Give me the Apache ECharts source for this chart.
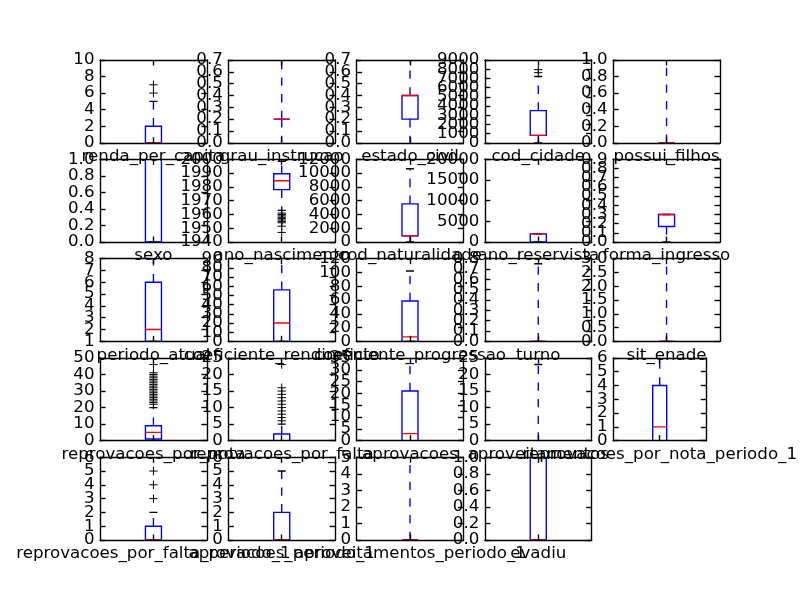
<!DOCTYPE html>
<html><head><meta charset="utf-8">
<script src="https://cdn.jsdelivr.net/npm/echarts@6/dist/echarts.min.js"></script>
<style>html,body{margin:0;padding:0;background:#fff}#c{width:800px;height:600px}</style>
</head><body><div id="c"></div>
<script>
const columns = ['renda_per_capita','grau_instrucao','estado_civil','cod_cidade','possui_filhos',
  'sexo','ano_nascimento','cod_naturalidade','ano_reservista','forma_ingresso',
  'periodo_atual','coeficiente_rendimento','coeficiente_progressao','turno','sit_enade',
  'reprovacoes_por_nota','reprovacoes_por_falta','aprovacoes','aproveitamentos','reprovacoes_por_nota_periodo_1',
  'reprovacoes_por_falta_periodo_1','aprovacoes_periodo_1','aproveitamentos_periodo_1','evadiu'];
const yMin = [0,0,0,0,0, 0,1940,0,0,0, 1,0,0,0,0, 0,0,0,0,0, 0,0,0,0];
const yMax = [10,0.7,0.7,9000,1, 1,2000,12000,20000,0.9, 8,90,120,0.8,3, 50,25,35,25,6, 6,6,5,1];
const yStep = [2,0.1,0.1,1000,0.2, 0.2,10,2000,5000,0.1, 1,10,20,0.1,0.5, 10,5,5,5,1, 1,1,1,0.2];
const yDecimals = [0,1,1,0,1, 1,0,0,0,1, 0,0,0,1,1, 0,0,0,0,0, 0,0,0,1];
const whiskerLow = [0,-0.5,-0.3,0,0, 0,1963,0,0,0, 1,0,0,0,0, 0,0,0,0,0, 0,0,0,0];
const q1 = [0,0.2,0.2,800,0, 0,1978,900,0,0.17, 1,0,0,0,0, 1,0,0,0,0, 0,0,0,0];
const median = [0,0.2,0.4,800,0, 1,1984.5,900,1990,0.3, 2,20,6.5,0,0, 5,0,3,0,1, 0,0,0,0];
const q3 = [2,0.2,0.4,3500,0, 1,1989.5,5540,1990,0.3, 6,56,58.5,0,0, 9,2,21,0,4, 1,2,0,1];
const whiskerHigh = [5,1.0,1.0,7200,1.5, 1,1998.5,10640,2010,0.3, 8,95,102,0.75,3.5, 20,5,36,23,6, 2,5,6,1];
const fliers = {
  0: [6,7],
  3: [7620,7950],
  6: [1961,1960,1959,1958,1957,1956,1955,1954,1951.5,1947],
  15: [22,23,24,25,26,27,28,29,30,31,32,33,34,35,36,37,38,39,40,41,46],
  16: [6,7,8,9,10,11,12,13,14,15,16,23],
  20: [3,4,5]
};
// tick label texts for each y axis, built from the tick ranges above
const yTickLabels = columns.map((_, i) => {
  const n = Math.round((yMax[i] - yMin[i]) / yStep[i]);
  const out = [];
  for (let k = 0; k <= n; k++) out.push((yMin[i] + k * yStep[i]).toFixed(yDecimals[i]));
  return out;
});

const FONT = 'DejaVu Sans', FS = 16.67, LW = 1.39, TL = 5.56;
const L = 100, T = 60, W = 620, H = 480, NC = 5, NR = 5;
const cw = W / (NC + (NC - 1) * 0.2), chh = H / (NR + (NR - 1) * 0.2);

const grids = [], xAxes = [], yAxes = [], series = [];
const axisLineStyle = {color:'#000', width:LW};
columns.forEach((name, i) => {
  const r = Math.floor(i / NC), c = i % NC;
  grids.push({left: L + c * cw * 1.2, top: T + r * chh * 1.2, width: cw, height: chh, show:false});
  const xBase = {gridIndex:i, type:'value', min:0.5, max:1.5, interval:0.5, z:5,
    splitLine:{show:false}, axisLine:{show:true, onZero:false, lineStyle:axisLineStyle},
    axisTick:{show:true, inside:true, length:TL, customValues:[1], lineStyle:axisLineStyle}};
  xAxes.push(Object.assign({}, xBase, {position:'bottom',
    axisLabel:{show:true, customValues:[1], margin:5.5, color:'#000', fontFamily:FONT, fontSize:FS,
      formatter: v => (Math.abs(v - 1) < 1e-9 ? name : '')}}));
  xAxes.push(Object.assign({}, xBase, {position:'top', axisLabel:{show:false}}));
  const yBase = {gridIndex:i, type:'value', min:yMin[i], max:yMax[i], interval:yStep[i], z:5,
    splitLine:{show:false}, axisLine:{show:true, onZero:false, lineStyle:axisLineStyle},
    axisTick:{show:true, inside:true, length:TL, lineStyle:axisLineStyle}, axisLabel:{show:false}};
  yAxes.push(Object.assign({}, yBase, {position:'left'}));
  yAxes.push(Object.assign({}, yBase, {position:'right'}));
  yAxes.push({gridIndex:i, type:'category', position:'left', data:yTickLabels[i], boundaryGap:false, z:5,
    axisLine:{show:false}, axisTick:{show:false}, splitLine:{show:false},
    axisLabel:{show:true, interval:0, margin:5.5, color:'#000', fontFamily:FONT, fontSize:FS}});

  series.push({
    type:'custom', xAxisIndex:2*i, yAxisIndex:3*i, clip:true, z:2, silent:true,
    data:[[1, whiskerLow[i], q1[i], median[i], q3[i], whiskerHigh[i]]],
    renderItem: (params, api) => {
      const x = api.value(0);
      const lo = api.value(1), a = api.value(2), m = api.value(3), b = api.value(4), hi = api.value(5);
      const pA = api.coord([x - 0.075, a]), pB = api.coord([x + 0.075, b]);
      const cx = api.coord([x, a])[0];
      const yLo = api.coord([x, lo])[1], yHi = api.coord([x, hi])[1], yM = api.coord([x, m])[1];
      const capL = api.coord([x - 0.0375, 0])[0], capR = api.coord([x + 0.0375, 0])[0];
      const dash = {stroke:'#0000ff', lineWidth:LW, lineDash:[8.33, 8.33], fill:null};
      return {type:'group', children:[
        {type:'line', shape:{x1:cx, y1:pA[1], x2:cx, y2:yLo}, style:dash},
        {type:'line', shape:{x1:cx, y1:pB[1], x2:cx, y2:yHi}, style:dash},
        {type:'line', shape:{x1:capL, y1:yLo, x2:capR, y2:yLo}, style:{stroke:'#000', lineWidth:LW}},
        {type:'line', shape:{x1:capL, y1:yHi, x2:capR, y2:yHi}, style:{stroke:'#000', lineWidth:LW}},
        {type:'rect', shape:{x:pA[0], y:pB[1], width:pB[0]-pA[0], height:pA[1]-pB[1]},
          style:{fill:null, stroke:'#0000ff', lineWidth:LW}},
        {type:'line', shape:{x1:pA[0], y1:yM, x2:pB[0], y2:yM}, style:{stroke:'#ff0000', lineWidth:LW}}
      ]};
    }
  });
  if (fliers[i]) {
    series.push({
      type:'custom', xAxisIndex:2*i, yAxisIndex:3*i, clip:true, z:3, silent:true,
      data: fliers[i].map(v => [1, v]),
      renderItem: (params, api) => {
        const p = api.coord([api.value(0), api.value(1)]);
        const s = 4.17;
        return {type:'group', children:[
          {type:'line', shape:{x1:p[0]-s, y1:p[1], x2:p[0]+s, y2:p[1]}, style:{stroke:'#000', lineWidth:1}},
          {type:'line', shape:{x1:p[0], y1:p[1]-s, x2:p[0], y2:p[1]+s}, style:{stroke:'#000', lineWidth:1}}
        ]};
      }
    });
  }
});

const chart = echarts.init(document.getElementById('c'), null, {renderer:'canvas'});
chart.setOption({animation:false, backgroundColor:'#fff', grid:grids, xAxis:xAxes, yAxis:yAxes, series:series});
</script></body></html>
